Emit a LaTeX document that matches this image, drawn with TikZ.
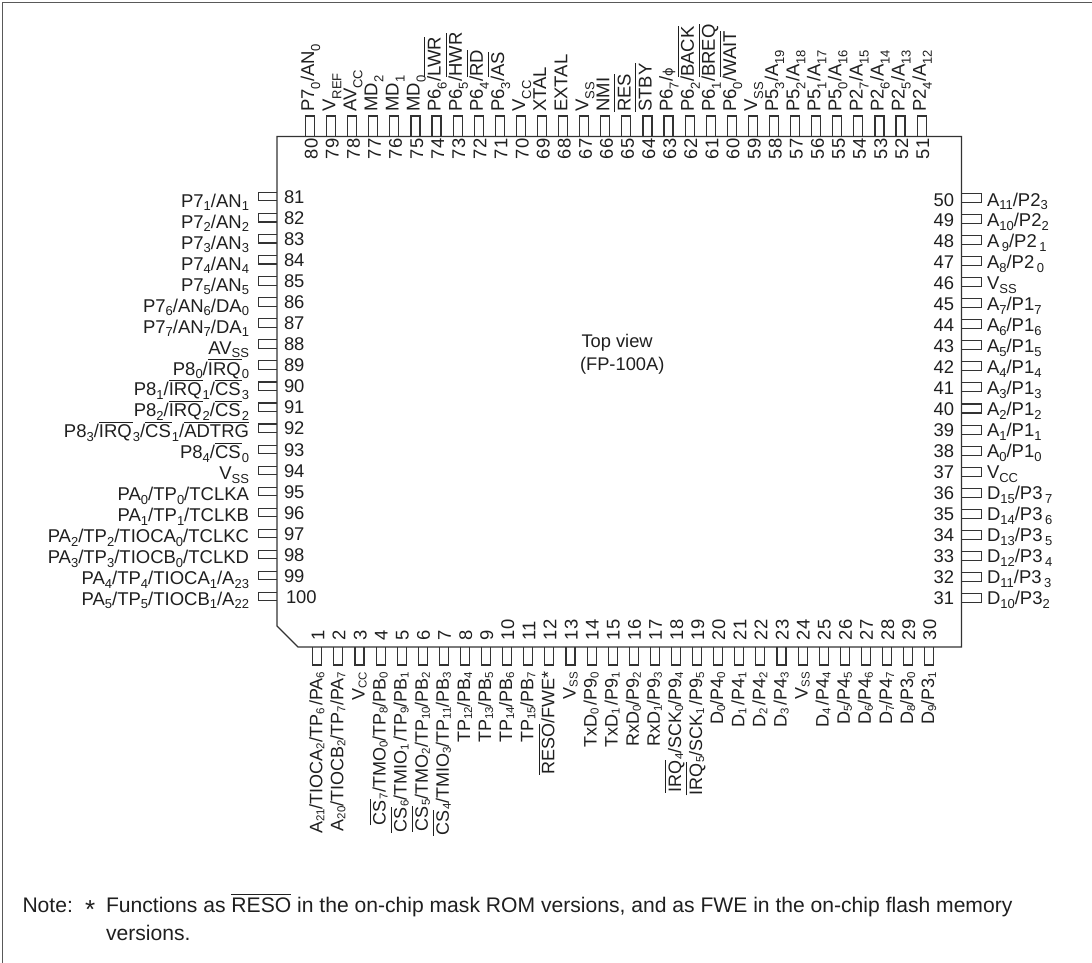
\documentclass[tikz,border=0pt]{standalone}
\usepackage{fontspec}
\setmainfont{Liberation Sans}
\newfontfamily\dvfont{DejaVu Sans}
\newcommand\sbsize{13}
\newcommand\sbdrop{3.5pt}
\newcommand\sbs[1]{\raisebox{-\sbdrop}{\fontsize{\sbsize}{14}\selectfont #1}}
\newcommand\ov[1]{\setbox0=\hbox{#1}\rlap{\raisebox{0.83em}{\rule{\wd0}{0.9pt}}}\box0\relax}
\newcommand\gap{\kern2.5pt}
\tikzset{
  wire/.style={draw=black!80,line width=1.15pt},
  lbl/.style={inner sep=0pt,outer sep=0pt,text=black!88,font=\fontsize{18.5}{20}\selectfont},
  numb/.style={inner sep=0pt,outer sep=0pt,text=black!88,font=\fontsize{18.4}{20}\selectfont},
  notetext/.style={lbl,font=\fontsize{21.1}{24}\selectfont},
  midtext/.style={lbl,font=\fontsize{18.3}{20}\selectfont},
}
\newcommand\pinT[2]{\pgfmathsetmacro\px{310+(80-#1)*21.09}
  \draw[wire] (\px-4.5,136.5)--(\px-4.5,116)--(\px+4.5,116)--(\px+4.5,136.5);
  \node[lbl,rotate=90,anchor=base west] (lt#1) at (\px+4.2,111.7) {\def\sbdrop{6pt}#2};
  \node[numb,rotate=90,anchor=base west] (nt#1) at (\px+7.6,159) {#1};}
\newcommand\pinB[2]{\pgfmathsetmacro\px{317.3+(#1-1)*21.1}
  \draw[wire] (\px-4.5,647)--(\px-4.5,665)--(\px+4.5,665)--(\px+4.5,647);
  \node[lbl,rotate=90,anchor=base east,font=\fontsize{18}{20}\selectfont] (lb#1) at (\px+5,671.7) {\def\sbsize{11.5}\def\sbdrop{2pt}#2};
  \node[numb,rotate=90,anchor=base west] (nb#1) at (\px+7,640) {#1};}
\newcommand\pinL[2]{\pgfmathsetmacro\py{196.7+(#1-81)*21.05}
  \pgfmathsetmacro\dl{10.7-(#1-81)*0.1}
  \pgfmathsetmacro\nx{#1==100?286:284}
  \draw[wire] (277,\py-4.2)--(258.3,\py-4.2)--(258.3,\py+4.2)--(277,\py+4.2);
  \node[lbl,anchor=base east] (ll#1) at (249,\py+\dl) {#2};
  \node[numb,anchor=base west] (nl#1) at (\nx,\py+6.7) {#1};}
\newcommand\pinR[2]{\pgfmathsetmacro\py{197.7+(50-#1)*21.08}
  \pgfmathsetmacro\dl{8.3-(50-#1)*0.085}
  \draw[wire] (961.5,\py-4.5)--(981.5,\py-4.5)--(981.5,\py+4.5)--(961.5,\py+4.5);
  \node[lbl,anchor=base west] (lr#1) at (987,\py+\dl) {#2};
  \node[numb,anchor=base east] (nr#1) at (954,\py+\dl) {#1};}
\begin{document}
\begin{tikzpicture}[x=1pt,y=-1pt]
\useasboundingbox (0,0) rectangle (1092,963);
\draw[draw=black!65,line width=1.3pt] (1092,2.5)--(2.5,2.5)--(2.5,963);
\draw[wire,line width=1.4pt] (277,136.5)--(961.5,136.5)--(961.5,647)--(298,647)--(277,626)--cycle;
% top
\pinT{80}{P7\sbs0/AN\sbs0}
\pinT{79}{V\sbs{REF}}
\pinT{78}{AV\sbs{CC}}
\pinT{77}{MD\sbs2}
\pinT{76}{MD\sbs1}
\pinT{75}{MD\sbs0}
\pinT{74}{P6\sbs6/\ov{LWR}}
\pinT{73}{P6\sbs5/\ov{HWR}}
\pinT{72}{P6\sbs4/\ov{RD}}
\pinT{71}{P6\sbs3/\ov{AS}}
\pinT{70}{V\sbs{CC}}
\pinT{69}{XTAL}
\pinT{68}{EXTAL}
\pinT{67}{V\sbs{SS}}
\pinT{66}{NMI}
\pinT{65}{\ov{RES}}
\pinT{64}{\ov{STBY}}
\pinT{63}{P6\sbs7/{\dvfont\fontsize{13}{14}\selectfont ϕ}}
\pinT{62}{P6\sbs2/\ov{BACK}}
\pinT{61}{P6\sbs1/\ov{BREQ}}
\pinT{60}{P6\sbs0/\ov{WAIT}}
\pinT{59}{V\sbs{SS}}
\pinT{58}{P5\sbs3/A\sbs{19}}
\pinT{57}{P5\sbs2/A\sbs{18}}
\pinT{56}{P5\sbs1/A\sbs{17}}
\pinT{55}{P5\sbs0/A\sbs{16}}
\pinT{54}{P2\sbs7/A\sbs{15}}
\pinT{53}{P2\sbs6/A\sbs{14}}
\pinT{52}{P2\sbs5/A\sbs{13}}
\pinT{51}{P2\sbs4/A\sbs{12}}
% right
\pinR{50}{A\sbs{11}/P2\sbs3}
\pinR{49}{A\sbs{10}/P2\sbs2}
\pinR{48}{A\gap\sbs9/P2\gap\sbs1}
\pinR{47}{A\sbs8/P2\gap\sbs0}
\pinR{46}{V\sbs{SS}}
\pinR{45}{A\sbs7/P1\sbs7}
\pinR{44}{A\sbs6/P1\sbs6}
\pinR{43}{A\sbs5/P1\sbs5}
\pinR{42}{A\sbs4/P1\sbs4}
\pinR{41}{A\sbs3/P1\sbs3}
\pinR{40}{A\sbs2/P1\sbs2}
\pinR{39}{A\sbs1/P1\sbs1}
\pinR{38}{A\sbs0/P1\sbs0}
\pinR{37}{V\sbs{CC}}
\pinR{36}{D\sbs{15}/P3\gap\sbs7}
\pinR{35}{D\sbs{14}/P3\gap\sbs6}
\pinR{34}{D\sbs{13}/P3\gap\sbs5}
\pinR{33}{D\sbs{12}/P3\gap\sbs4}
\pinR{32}{D\sbs{11}/P3\gap\sbs3}
\pinR{31}{D\sbs{10}/P3\sbs2}
% left
\pinL{81}{P7\sbs1/AN\sbs1}
\pinL{82}{P7\sbs2/AN\sbs2}
\pinL{83}{P7\sbs3/AN\sbs3}
\pinL{84}{P7\sbs4/AN\sbs4}
\pinL{85}{P7\sbs5/AN\sbs5}
\pinL{86}{P7\sbs6/AN\sbs6/DA\sbs0}
\pinL{87}{P7\sbs7/AN\sbs7/DA\sbs1}
\pinL{88}{AV\sbs{SS}}
\pinL{89}{P8\sbs0/\ov{IRQ\kern1pt}\sbs0}
\pinL{90}{P8\sbs1/\ov{IRQ\kern1pt}\sbs1/\ov{CS\kern1pt}\sbs3}
\pinL{91}{P8\sbs2/\ov{IRQ\kern1pt}\sbs2/\ov{CS\kern1pt}\sbs2}
\pinL{92}{P8\sbs3/\ov{IRQ\kern1pt}\sbs3/\ov{CS\kern1pt}\sbs1/\ov{ADTRG}}
\pinL{93}{P8\sbs4/\ov{CS\kern1pt}\sbs0}
\pinL{94}{V\sbs{SS}}
\pinL{95}{PA\sbs0/TP\sbs0/TCLKA}
\pinL{96}{PA\sbs1/TP\sbs1/TCLKB}
\pinL{97}{PA\sbs2/TP\sbs2/TIOCA\sbs0/TCLKC}
\pinL{98}{PA\sbs3/TP\sbs3/TIOCB\sbs0/TCLKD}
\pinL{99}{PA\sbs4/TP\sbs4/TIOCA\sbs1/A\sbs{23}}
\pinL{100}{PA\sbs5/TP\sbs5/TIOCB\sbs1/A\sbs{22}}
% bottom
\pinB{1}{A\sbs{21}/TIOCA\sbs2/TP\sbs6\gap/PA\sbs6}
\pinB{2}{A\sbs{20}/TIOCB\sbs2/TP\sbs7/PA\sbs7}
\pinB{3}{V\sbs{CC}}
\pinB{4}{\ov{CS\kern1pt}\sbs7/TMO\sbs0/TP\sbs8/PB\sbs0}
\pinB{5}{\ov{CS\kern1pt}\sbs6/TMIO\sbs1\gap/TP\sbs9/PB\sbs1}
\pinB{6}{\ov{CS\kern1pt}\sbs5/TMO\sbs2/TP\sbs{10}/PB\sbs2}
\pinB{7}{\ov{CS\kern1pt}\sbs4/TMIO\sbs3/TP\sbs{11}/PB\sbs3}
\pinB{8}{TP\sbs{12}/PB\sbs4}
\pinB{9}{TP\sbs{13}/PB\sbs5}
\pinB{10}{TP\sbs{14}/PB\sbs6}
\pinB{11}{TP\sbs{15}/PB\sbs7}
\pinB{12}{\ov{RESO}/FWE*}
\pinB{13}{V\sbs{SS}}
\pinB{14}{TxD\sbs0\gap/P9\sbs0}
\pinB{15}{TxD\sbs1\gap/P9\sbs1}
\pinB{16}{RxD\sbs0/P9\sbs2}
\pinB{17}{RxD\sbs1/P9\sbs3}
\pinB{18}{\ov{IRQ\kern1pt}\sbs4/SCK\sbs0/P9\sbs4}
\pinB{19}{\ov{IRQ\kern1pt}\sbs5/SCK\sbs1\gap/P9\sbs5}
\pinB{20}{D\sbs0/P4\sbs0}
\pinB{21}{D\sbs1\gap/P4\sbs1}
\pinB{22}{D\sbs2\gap/P4\sbs2}
\pinB{23}{D\sbs3\gap/P4\sbs3}
\pinB{24}{V\sbs{SS}}
\pinB{25}{D\sbs4\gap/P4\sbs4}
\pinB{26}{D\sbs5/P4\sbs5}
\pinB{27}{D\sbs6/P4\sbs6}
\pinB{28}{D\sbs7/P4\sbs7}
\pinB{29}{D\sbs8/P3\sbs0}
\pinB{30}{D\sbs9/P3\sbs1}
% centre
\node[midtext,anchor=base west] (tv) at (581.5,347) {Top view};
\node[midtext,anchor=base west] (fp) at (580,370) {(FP-100A)};
% note
\node[notetext,anchor=base west] (note) at (22.5,912.7) {Note:};
\node[notetext,anchor=base west] (st) at (85,912.7) {\raisebox{-5.5pt}{\fontsize{26}{28}\selectfont *}};
\node[notetext,anchor=base west] (n1) at (106,912.7) {Functions as \ov{RESO} in the on-chip mask ROM versions, and as FWE in the on-chip flash memory};
\node[notetext,anchor=base west] (n2) at (106,940.7) {versions.};
\end{tikzpicture}
\end{document}
